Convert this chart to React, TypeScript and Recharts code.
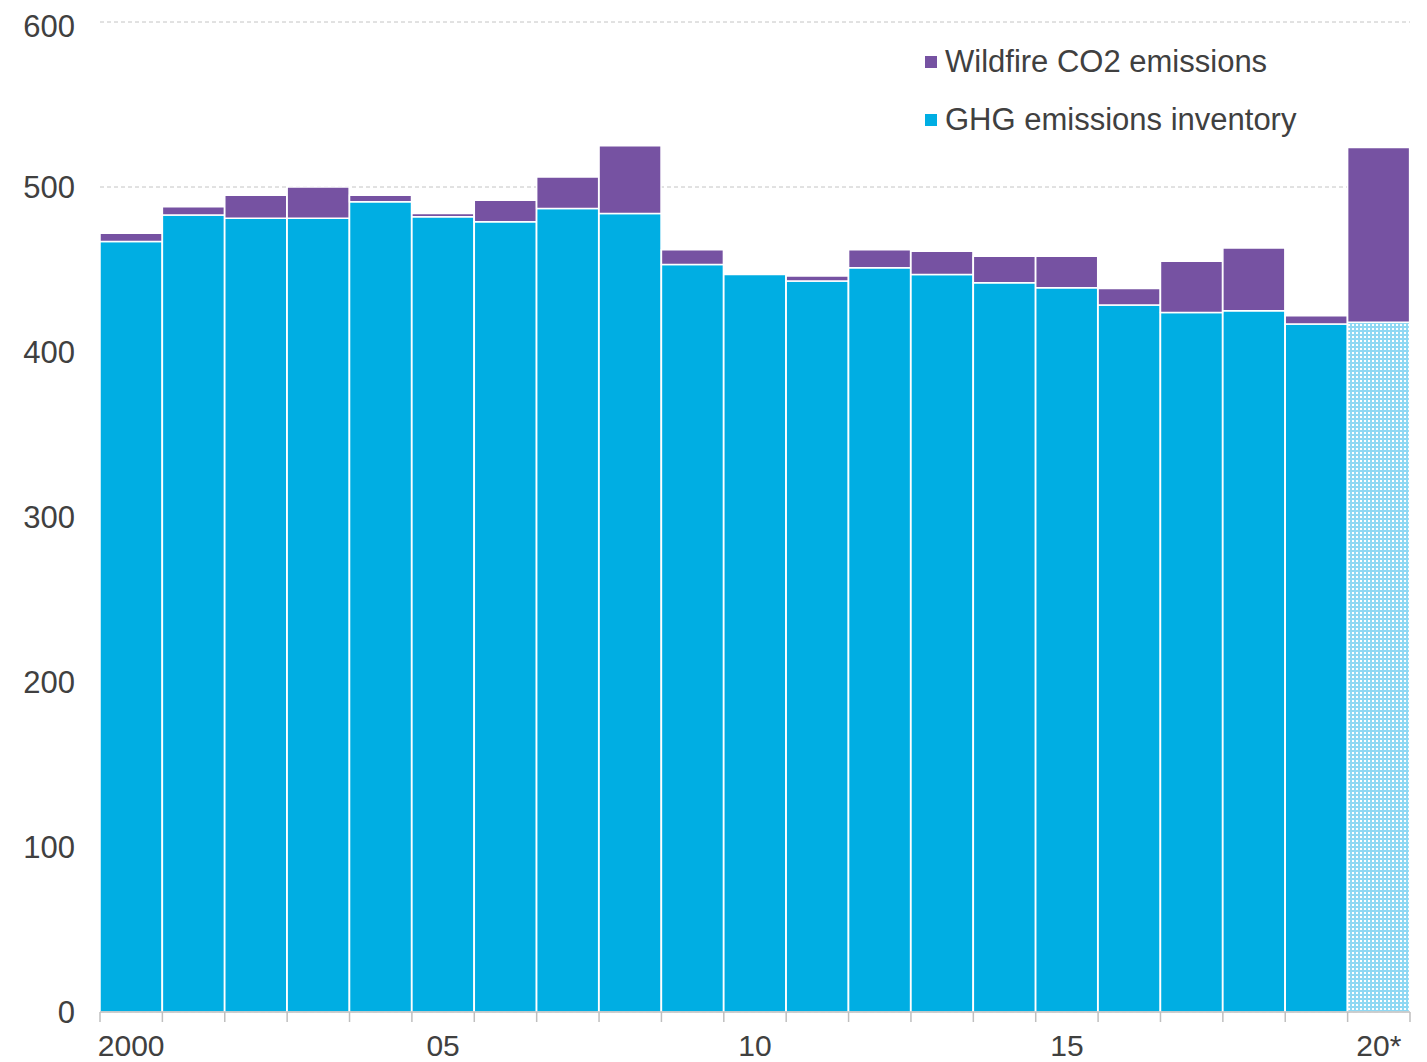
import React from "react";
import { BarChart, Bar, XAxis, YAxis, CartesianGrid, Cell } from "recharts";

const years = ["2000", "2001", "2002", "2003", "2004", "2005", "2006", "2007", "2008", "2009", "2010", "2011", "2012", "2013", "2014", "2015", "2016", "2017", "2018", "2019", "20*"];
const tickText = ["2000", "", "", "", "", "05", "", "", "", "", "10", "", "", "", "", "15", "", "", "", "", "20*"];
const ghgInventory = [467, 483, 481, 481, 491, 482, 479, 487, 484, 453, 447, 443, 451, 447, 442, 439, 428.5, 424, 425, 417, 418];
const wildfireCo2 = [5, 5, 14, 19, 4, 2, 13, 19, 41, 9, 0, 3, 11, 14, 16, 19, 10, 31, 38, 5, 106];
const yTicks = [0, 100, 200, 300, 400, 500, 600];
const legendItems = [
  { label: "Wildfire CO2 emissions", color: "#7652A2" },
  { label: "GHG emissions inventory", color: "#00AEE3" },
];

const BLUE = "#00AEE3";
const PURPLE = "#7652A2";
const TEXT = "#404040";
const FONT = "'Liberation Sans', Arial, sans-serif";

const data = years.map((y, i) => ({ year: y, ghg: ghgInventory[i], fire: wildfireCo2[i] }));

const W = 1411;
const H = 1054;
const M = { top: 14, right: 9, left: 0, bottom: 0 };
const X_H = 50;
const Y_W = 92;
const BAND = (W - M.left - M.right - Y_W) / years.length;

function YearTick(props: any) {
  const { x, y, index } = props;
  const half = props.payload?.offset ?? BAND / 2;
  const last = index === years.length - 1;
  return (
    <g>
      <line x1={x - half} x2={x - half} y1={y} y2={y + 10} stroke="#bfbfbf" strokeWidth={1.5} />
      {last && <line x1={x + half} x2={x + half} y1={y} y2={y + 10} stroke="#bfbfbf" strokeWidth={1.5} />}
      {tickText[index] && (
        <text x={x} y={y + 33} textAnchor="middle" dominantBaseline="central" fill={TEXT} fontSize={30} fontFamily={FONT}>
          {tickText[index]}
        </text>
      )}
    </g>
  );
}

export default function App() {
  return (
    <div style={{ position: "relative", width: W, height: H, background: "#fff" }}>
      <BarChart width={W} height={H} data={data} margin={M} barCategoryGap={0} barGap={0}>
        <defs>
          <pattern id="estDots" width="4" height="4" patternUnits="userSpaceOnUse">
            <rect width="4" height="4" fill="#8fd8f3" />
            <rect x="0" y="0" width="2" height="2" fill="#ffffff" />
          </pattern>
        </defs>
        <CartesianGrid horizontal vertical={false} stroke="#c4c4c4" strokeDasharray="4 3" />
        <XAxis
          dataKey="year"
          interval={0}
          tickSize={0}
          tickMargin={0}
          tickLine={false}
          axisLine={{ stroke: "#bfbfbf", strokeWidth: 1.5 }}
          tick={<YearTick />}
          height={X_H}
        />
        <YAxis
          width={Y_W}
          domain={[0, 600]}
          ticks={yTicks}
          axisLine={false}
          tickLine={false}
          tickSize={0}
          tickMargin={25}
          tick={{ fill: TEXT, fontSize: 31, fontFamily: FONT }}
        />
        <Bar dataKey="ghg" name="GHG emissions inventory" stackId="a" fill={BLUE} stroke="#ffffff" strokeWidth={1.5} isAnimationActive={false}>
          {data.map((d, i) => (
            <Cell key={i} fill={i === data.length - 1 ? "url(#estDots)" : BLUE} />
          ))}
        </Bar>
        <Bar dataKey="fire" name="Wildfire CO2 emissions" stackId="a" fill={PURPLE} stroke="#ffffff" strokeWidth={1.5} isAnimationActive={false} />
      </BarChart>
      <div style={{ position: "absolute", top: 25, left: 917, fontFamily: FONT, fontSize: 31, color: TEXT }}>
        {legendItems.map((it) => (
          <div key={it.label} style={{ display: "flex", alignItems: "center", height: 58 }}>
            <span style={{ display: "inline-block", width: 12, height: 12, background: it.color, marginRight: 8 }} />
            <span>{it.label}</span>
          </div>
        ))}
      </div>
    </div>
  );
}
